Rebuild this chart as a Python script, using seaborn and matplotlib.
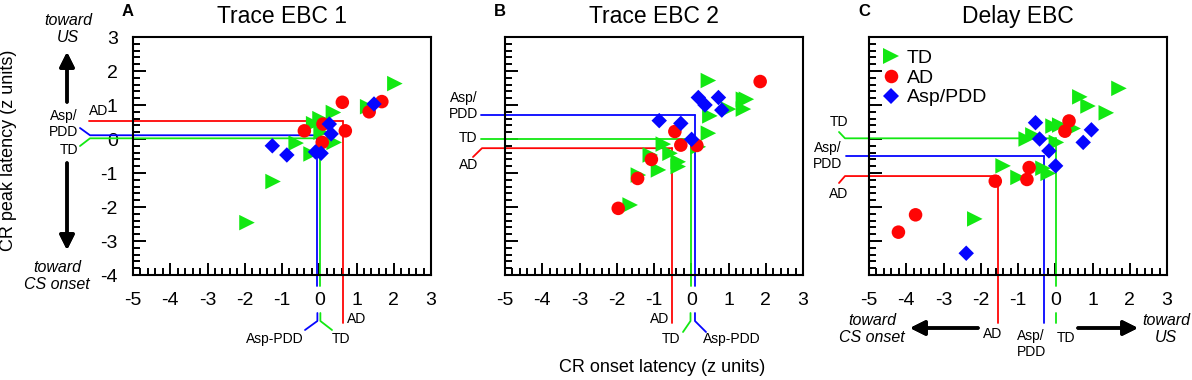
import numpy as np
import pandas as pd
import seaborn as sns
import matplotlib.pyplot as plt
from matplotlib.ticker import MultipleLocator

sns.set_theme(style='ticks', rc={'axes.edgecolor': 'black', 'xtick.color': 'black',
                                 'ytick.color': 'black', 'text.color': 'black',
                                 'axes.labelcolor': 'black'})
plt.rcParams['font.family'] = ['Liberation Sans', 'DejaVu Sans']
plt.rcParams['axes.unicode_minus'] = False

W, H = 1192, 380

groups = ['TD', 'AD', 'Asp/PDD']
palette = {'TD': '#12e812', 'AD': '#ff0505', 'Asp/PDD': '#0505ff'}
markers = {'TD': '>', 'AD': 'o', 'Asp/PDD': 'D'}
msizes = {'TD': 125, 'AD': 95, 'Asp/PDD': 62}

titles = ['Trace EBC 1', 'Trace EBC 2', 'Delay EBC']
letters = ['A', 'B', 'C']

# ---- panel A: Trace EBC 1 (CR onset z, CR peak z)
a_td_x = [2.03, -1.94, -1.24, -0.62, -0.22, -0.15, 0.02, 0.38, 0.40, 1.30, 0.05]
a_td_y = [1.63, -2.46, -1.25, -0.12, -0.44, 0.45, 0.60, 0.78, -0.10, 0.95, 0.20]
a_ad_x = [0.62, -0.40, 0.10, 0.08, 0.70, 1.34, 1.68]
a_ad_y = [1.08, 0.24, 0.44, -0.10, 0.24, 0.80, 1.10]
a_asp_x = [-1.26, -0.87, -0.10, 0.05, 0.32, 0.27, 1.47]
a_asp_y = [-0.20, -0.47, -0.38, -0.42, 0.15, 0.44, 1.03]

# ---- panel B: Trace EBC 2
b_td_x = [0.46, 1.40, 1.48, 1.40, 1.00, 0.50, 0.46, -0.75, -0.57, -0.35, -0.35, -0.88, -1.10, -1.42, -1.64, 0.19]
b_td_y = [1.72, 1.17, 1.17, 0.88, 0.88, 0.68, 0.17, -0.15, -0.42, -0.67, -0.81, -0.91, -0.47, -1.06, -1.94, -0.23]
b_ad_x = [1.85, -0.44, -0.28, 0.15, -1.07, -1.44, -1.96]
b_ad_y = [1.69, 0.22, -0.18, -0.19, -0.60, -1.16, -2.04]
b_asp_x = [0.19, 0.37, 0.73, 0.82, -0.86, -0.28, 0.01]
b_asp_y = [1.22, 1.00, 1.22, 0.85, 0.54, 0.46, -0.01]

# ---- panel C: Delay EBC
c_td_x = [1.71, 0.66, 0.88, 1.37, -0.06, 0.12, 0.48, -0.60, -0.78, 0.03, -1.40, -1.00, -0.33, -0.19, -2.16]
c_td_y = [1.49, 1.24, 0.97, 0.77, 0.38, 0.41, 0.31, 0.12, 0.00, -0.10, -0.79, -1.13, -0.86, -1.01, -2.35]
c_ad_x = [0.37, 0.26, -0.70, -0.76, -1.61, -3.75, -4.21]
c_ad_y = [0.53, 0.23, -0.84, -1.19, -1.24, -2.23, -2.74]
c_asp_x = [-0.53, -0.42, -0.17, 0.01, 0.97, 0.75, -2.39]
c_asp_y = [0.48, 0.00, -0.35, -0.79, 0.27, -0.10, -3.36]

# group means (onset, peak)
a_means = {'TD': (0.03, 0.02), 'AD': (0.64, 0.53), 'Asp/PDD': (-0.05, 0.11)}
b_means = {'TD': (-0.02, 0.01), 'AD': (-0.51, -0.27), 'Asp/PDD': (0.10, 0.72)}
c_means = {'TD': (0.01, 0.02), 'AD': (-1.54, -1.09), 'Asp/PDD': (-0.30, -0.50)}

panel_data = [
    {'TD': (a_td_x, a_td_y), 'AD': (a_ad_x, a_ad_y), 'Asp/PDD': (a_asp_x, a_asp_y)},
    {'TD': (b_td_x, b_td_y), 'AD': (b_ad_x, b_ad_y), 'Asp/PDD': (b_asp_x, b_asp_y)},
    {'TD': (c_td_x, c_td_y), 'AD': (c_ad_x, c_ad_y), 'Asp/PDD': (c_asp_x, c_asp_y)},
]
panel_means = [a_means, b_means, c_means]

# leader lines (pixel layout): left end, left bend, bottom end, gap under tick label, bottom bend
leaders = [
    {'TD': dict(left=90, ldiag=(80, 146), bottom=321, gap=True, bdiag=(332, 330)),
     'AD': dict(left=89, ldiag=None, bottom=323, gap=False, bdiag=None),
     'Asp/PDD': dict(left=90, ldiag=(80, 128), bottom=321, gap=True, bdiag=(305, 330))},
    {'TD': dict(left=481, ldiag=None, bottom=321, gap=True, bdiag=(683, 332)),
     'AD': dict(left=482, ldiag=(473, 157), bottom=323, gap=False, bdiag=None),
     'Asp/PDD': dict(left=481, ldiag=None, bottom=321, gap=True, bdiag=(706, 332))},
    {'TD': dict(left=845, ldiag=(839, 132), bottom=323, gap=True, bdiag=None),
     'AD': dict(left=845, ldiag=(839, 183), bottom=323, gap=False, bdiag=None),
     'Asp/PDD': dict(left=846, ldiag=None, bottom=323, gap=False, bdiag=None)},
]

# leader labels: (text, px, py, ha, va)
leader_labels = [
    ('AD', 89, 118, 'left', 'bottom'), ('Asp/\nPDD', 78, 124, 'right', 'center'),
    ('TD', 78, 150, 'right', 'center'), ('AD', 347, 326, 'left', 'bottom'),
    ('Asp-PDD', 304, 332, 'right', 'top'), ('TD', 332, 332, 'left', 'top'),
    ('Asp/\nPDD', 478, 106, 'right', 'center'), ('TD', 477, 138, 'right', 'center'),
    ('AD', 478, 165, 'right', 'center'), ('AD', 669, 326, 'right', 'bottom'),
    ('TD', 680, 332, 'right', 'top'), ('Asp-PDD', 703, 332, 'left', 'top'),
    ('TD', 839, 129, 'center', 'bottom'), ('Asp/\nPDD', 842, 156, 'right', 'center'),
    ('AD', 839, 187, 'center', 'top'), ('AD', 993, 327, 'center', 'top'),
    ('Asp/\nPDD', 1031, 329, 'center', 'top'), ('TD', 1066, 331, 'center', 'top'),
]

fig = plt.figure(figsize=(W / 100, H / 100), dpi=100)
lefts = [133, 505, 869]


def to_data(ax, px, py):
    return ax.transData.inverted().transform((px, H - py))


for i in range(3):
    ax = fig.add_axes([lefts[i] / W, 105 / H, 298 / W, 238 / H])
    rows = []
    for g in groups:
        xs, ys = panel_data[i][g]
        rows += [(x, y, g) for x, y in zip(xs, ys)]
    df = pd.DataFrame(rows, columns=['onset', 'peak', 'group'])
    sns.scatterplot(data=df, x='onset', y='peak', hue='group', style='group', size='group',
                    hue_order=groups, style_order=groups, size_order=groups,
                    palette=palette, markers=markers, sizes=msizes, linewidth=0,
                    ax=ax, legend=(i == 2), zorder=3)
    ax.set_xlim(-5, 3)
    ax.set_ylim(-4, 3)
    ax.set_xticks(range(-5, 4))
    ax.set_yticks(range(-4, 4))
    ax.xaxis.set_minor_locator(MultipleLocator(0.2))
    ax.yaxis.set_minor_locator(MultipleLocator(0.2))
    ax.tick_params(which='both', direction='in', width=1.4, color='black',
                   bottom=True, left=True, top=False, right=False)
    ax.tick_params(which='major', length=9)
    ax.tick_params(which='minor', length=5)
    ax.tick_params(axis='x', labelsize=14, pad=12)
    ax.tick_params(axis='y', labelsize=14, pad=11, labelleft=(i == 0))
    for sp in ax.spines.values():
        sp.set_linewidth(1.5)
        sp.set_color('black')
    ax.set_xlabel('')
    ax.set_ylabel('')
    ax.set_title(titles[i], fontsize=16.5, pad=10)

    # mean leader lines
    for g in groups:
        mx, my = panel_means[i][g]
        s = leaders[i][g]
        col = palette[g]
        xl, _ = to_data(ax, s['left'], 0)
        hx, hy = [mx, xl], [my, my]
        if s['ldiag']:
            dx, dy = to_data(ax, *s['ldiag'])
            hx.append(dx)
            hy.append(dy)
        ax.plot(hx, hy, color=col, lw=1.3, clip_on=False, zorder=2)
        _, yb = to_data(ax, 0, s['bottom'])
        if s['gap']:
            _, y1 = to_data(ax, 0, 286)
            _, y2 = to_data(ax, 0, 313)
            ax.plot([mx, mx], [my, y1], color=col, lw=1.3, clip_on=False, zorder=2)
            vx, vy = [mx, mx], [y2, yb]
        else:
            vx, vy = [mx, mx], [my, yb]
        if s['bdiag']:
            dx, dy = to_data(ax, *s['bdiag'])
            vx.append(dx)
            vy.append(dy)
        ax.plot(vx, vy, color=col, lw=1.3, clip_on=False, zorder=2)

    if i == 2:
        h, l = ax.get_legend_handles_labels()
        ax.legend(h, l, loc='upper left', bbox_to_anchor=(0, 1), frameon=False, fontsize=14,
                  handlelength=1.0, handletextpad=0.3, labelspacing=0.1,
                  borderaxespad=0.45, borderpad=0.2)

    fig.text((lefts[i] - 5) / W, 1 - 11 / H, letters[i], fontsize=12, fontweight='bold',
             ha='center', va='center')

for t, px, py, ha, va in leader_labels:
    fig.text(px / W, 1 - py / H, t, fontsize=10, ha=ha, va=va)

# axis labels
fig.text(9 / W, 1 - 150 / H, 'CR peak latency (z units)', rotation=90, fontsize=13,
         ha='center', va='center')
fig.text(662 / W, 1 - 368 / H, 'CR onset latency (z units)', fontsize=13, ha='center', va='center')

# direction hints
for t, px, py in [('toward\nUS', 68, 29), ('toward\nCS onset', 57, 276),
                  ('toward\nCS onset', 872, 329), ('toward\nUS', 1166, 329)]:
    fig.text(px / W, 1 - py / H, t, fontsize=11.5, style='italic', ha='center', va='center',
             linespacing=1.1)

arrow = dict(arrowstyle='-|>', lw=2.5, mutation_scale=22, color='black', shrinkA=0, shrinkB=0)
for (x0, y0), (x1, y1) in [((67, 102), (67, 52)), ((67, 163), (67, 250)),
                           ((978, 328), (910, 328)), ((1078, 328), (1138, 328))]:
    fig.add_artist(plt.annotate('', xy=(x1, H - y1), xytext=(x0, H - y0),
                                xycoords='figure pixels', arrowprops=arrow))

fig.savefig('out.png', dpi=100, facecolor='white')
